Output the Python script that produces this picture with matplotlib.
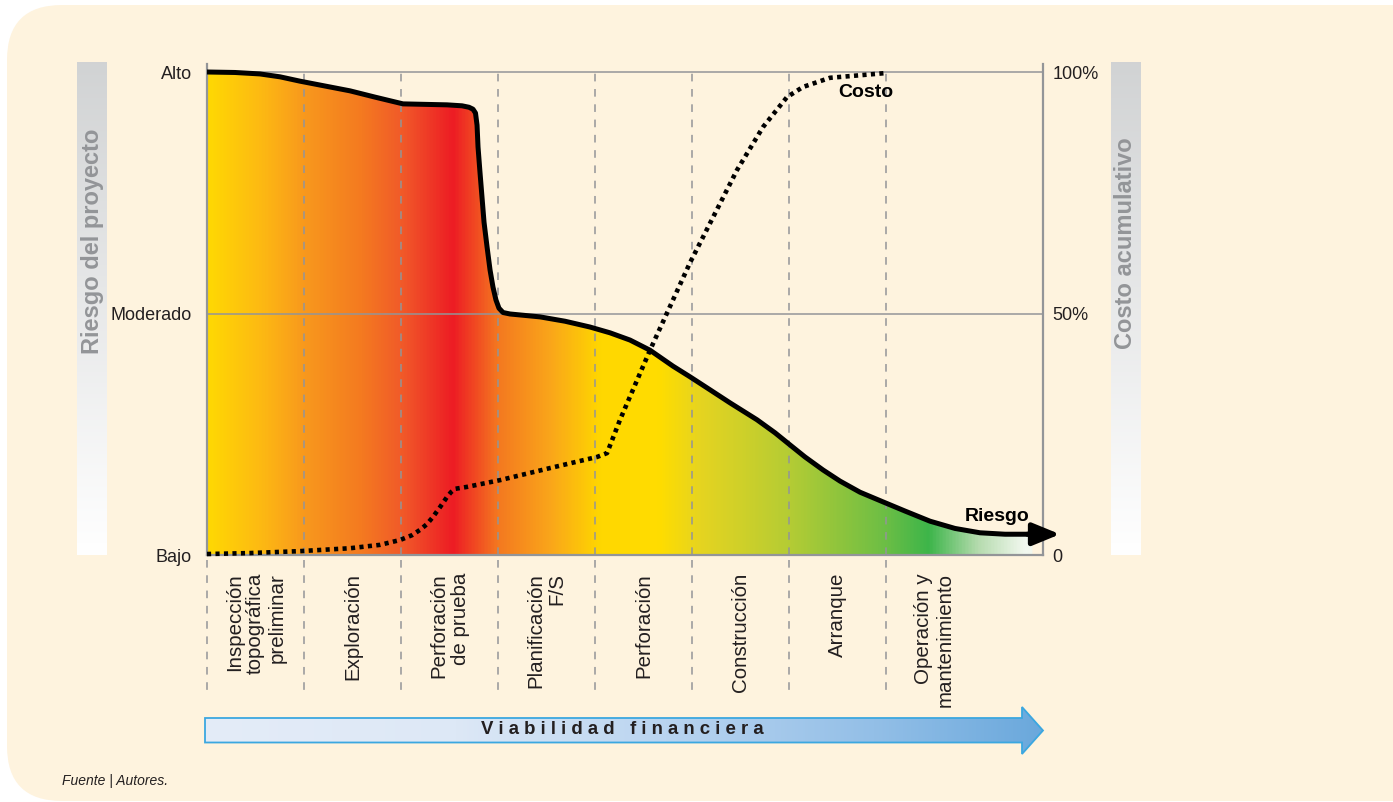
import numpy as np
import matplotlib
matplotlib.use("Agg")
import matplotlib.pyplot as plt
from matplotlib.patches import FancyBboxPatch, Polygon
from matplotlib.colors import LinearSegmentedColormap

plt.rcParams['font.family'] = ['Liberation Sans', 'DejaVu Sans']

# ---------------- data ----------------
phases = ["Inspección\ntopográfica\npreliminar", "Exploración", "Perforación\nde prueba",
          "Planificación\nF/S", "Perforación", "Construcción", "Arranque",
          "Operación y\nmantenimiento"]
risk_levels = ["Bajo", "Moderado", "Alto"]
cost_levels = ["0", "50%", "100%"]
level_values = [0.0, 0.5, 1.0]

# risk curve (x in phase units, y normalized 0=Bajo .. 1=Alto)
risk_x = [0.0, 0.289, 0.546, 0.753, 0.959, 1.216, 1.474, 1.732, 1.938, 2.021, 2.247,
          2.474, 2.629, 2.701, 2.742, 2.768, 2.784, 2.794, 2.814, 2.835, 2.856, 2.887,
          2.918, 2.948, 2.979, 3.010, 3.052, 3.124, 3.433, 3.691, 3.948, 4.155, 4.361,
          4.567, 4.804, 4.979, 5.186, 5.392, 5.670, 5.856, 6.010, 6.165, 6.351, 6.526,
          6.732, 6.969, 7.196, 7.454, 7.711, 7.969, 8.227, 8.557]
risk_y = [1.0, 0.999, 0.996, 0.990, 0.981, 0.971, 0.961, 0.948, 0.938, 0.934, 0.933,
          0.932, 0.930, 0.927, 0.923, 0.915, 0.890, 0.845, 0.793, 0.741, 0.689, 0.638,
          0.590, 0.555, 0.528, 0.511, 0.502, 0.499, 0.493, 0.484, 0.472, 0.460, 0.445,
          0.424, 0.391, 0.369, 0.342, 0.315, 0.280, 0.253, 0.228, 0.203, 0.176, 0.153,
          0.130, 0.110, 0.091, 0.070, 0.055, 0.046, 0.043, 0.043]

# cumulative cost curve (0..1 = 0..100%)
cost_x = [0.0, 0.443, 0.959, 1.474, 1.784, 1.990, 2.113, 2.196, 2.268, 2.330, 2.402,
          2.474, 2.515, 2.557, 2.680, 3.021, 3.536, 4.021, 4.124, 4.258, 4.567, 4.979,
          5.464, 5.732, 5.979, 6.144, 6.423, 7.010]
cost_y = [0.002, 0.004, 0.008, 0.014, 0.021, 0.031, 0.041, 0.052, 0.064, 0.079, 0.099,
          0.120, 0.130, 0.137, 0.141, 0.155, 0.180, 0.203, 0.211, 0.280, 0.424, 0.605,
          0.797, 0.886, 0.948, 0.969, 0.988, 0.998]

# ---------------- styles ----------------
W, H = 1393, 802
GRAY = '#939598'
TXT = '#231F20'
fill_stops_x = [0.0, 0.55, 1.0, 1.58, 2.0, 2.53, 3.0, 3.54, 4.05, 4.67, 5.08, 6.0,
                7.0, 7.45, 7.96, 8.44]
fill_stops_c = ['#FFD803', '#FDB913', '#F8981D', '#F47A20', '#F15A29', '#ED1C24',
                '#F47920', '#FAA61A', '#FFD700', '#FFDD00', '#E6D420', '#B5CC34',
                '#6CBE45', '#3DB54A', '#B5DBAE', '#F2F8EF']

fig = plt.figure(figsize=(W / 100, H / 100), dpi=100)
fig.patch.set_facecolor('white')

# background / decoration layer in pixel coordinates
bg = fig.add_axes([0, 0, 1, 1], zorder=0)
bg.set_xlim(0, W)
bg.set_ylim(H, 0)
bg.axis('off')
bg.add_patch(FancyBboxPatch((7, 5), 1440, 796, boxstyle="round,pad=0,rounding_size=55",
                            fc='#FEF3DE', ec='none'))

# gray gradient side bars
gv = np.linspace(0, 1, 256)[:, None]
top_c = np.array([0.82, 0.827, 0.831])
bar = (top_c[None, None, :] * (1 - gv[:, :, None]) + 1.0 * gv[:, :, None])
for x0 in (77, 1111):
    bg.imshow(bar, extent=[x0, x0 + 30, 555, 62], origin='upper', aspect='auto',
              interpolation='bicubic', zorder=1)
bg.text(92, 241, "Riesgo del proyecto", rotation=90, ha='center', va='center',
        color=GRAY, fontweight='bold', fontsize=17, zorder=2)
bg.text(1126, 243, "Costo acumulativo", rotation=90, ha='center', va='center',
        color=GRAY, fontweight='bold', fontsize=17, zorder=2)

# financial viability arrow
arrow_pts = [(205, 718), (1022, 718), (1022, 707), (1043, 730.5), (1022, 754),
             (1022, 742.5), (205, 742.5)]
acmap = LinearSegmentedColormap.from_list(
    'blu', [(0, '#E4ECF8'), (0.3, '#DDE8F6'), (0.55, '#B9D4F0'), (0.8, '#93BFE7'),
            (1, '#6AA8DC')])
agrad = np.linspace(0, 1, 512)[None, :]
aim = bg.imshow(agrad, cmap=acmap, extent=[205, 1043, 754, 707], aspect='auto',
                zorder=1, interpolation='bicubic')
apoly = Polygon(arrow_pts, closed=True, fc='none', ec='#3BA7E0', lw=1.3, zorder=2)
bg.add_patch(apoly)
aim.set_clip_path(apoly)
bg.text(622, 730, "V i a b i l i d a d   f i n a n c i e r a", ha='center',
        va='center', fontweight='bold', fontsize=13.4, color=TXT, zorder=3)

# source note
bg.text(62, 781, "Fuente | Autores.", style='italic', fontsize=10, ha='left',
        va='center', color=TXT)

# ---------------- main chart ----------------
x_left, x_right, y_bot, y_top = 207, 1043, 555, 64
ax = fig.add_axes([x_left / W, 1 - y_bot / H, (x_right - x_left) / W,
                   (y_bot - y_top) / H], zorder=2)
ax.patch.set_alpha(0)
ax.set_xlim(0, (x_right - x_left) / 97)
ax.set_ylim(0, (y_bot - y_top) / 483)
for s in ('left', 'right', 'bottom'):
    ax.spines[s].set_color(GRAY)
    ax.spines[s].set_linewidth(1.6)
ax.spines['top'].set_visible(False)
ax.set_xticks([])
ax.set_yticks(level_values)
ax.set_yticklabels(risk_levels, fontsize=13, color=TXT)
ax.tick_params(axis='y', length=0, pad=11)

ax2 = ax.twinx()
ax2.patch.set_alpha(0)
ax2.set_ylim(ax.get_ylim())
ax2.set_yticks(level_values)
ax2.set_yticklabels(cost_levels, fontsize=13, color=TXT)
ax2.tick_params(axis='y', length=0, pad=7)
for s in ax2.spines.values():
    s.set_visible(False)
ax2.set_xticks([])

# gradient fill under risk curve
fill_end = fill_stops_x[-1] + 0.07
cmap = LinearSegmentedColormap.from_list(
    'risk', [(x / fill_end, c) for x, c in zip(fill_stops_x, fill_stops_c)] +
    [(1.0, fill_stops_c[-1])])
grad = np.linspace(0, 1, 1024)[None, :]
im = ax.imshow(grad, cmap=cmap, extent=[0, fill_end, 0, 1.0], aspect='auto',
               zorder=1, interpolation='bicubic')
verts = [(min(x, fill_end), y) for x, y in zip(risk_x, risk_y)]
verts += [(fill_end, 0), (0, 0)]
clip = Polygon(verts, closed=True, fc='none', ec='none', transform=ax.transData)
ax.add_patch(clip)
im.set_clip_path(clip)

# gridlines
for v in (0.5, 1.0):
    ax.axhline(v, color=GRAY, lw=1.1, zorder=2)

# phase separators
n = len(phases)
for b in range(1, n):
    ax.plot([b, b], [0, 1.0], color=GRAY, lw=1.1, ls=(0, (5, 5)), zorder=2)
for b in range(0, n):
    ax.plot([b, b], [-0.011, -0.29], color=GRAY, lw=1.1, ls=(0, (5, 5)),
            clip_on=False, zorder=2)

# phase labels
for i, lab in enumerate(phases):
    ax.text(i + 0.5, -0.0367, lab, transform=ax.get_xaxis_transform(), rotation=90,
            ha='center', va='top', multialignment='right', fontsize=14.8, color=TXT,
            linespacing=1.15)

# risk curve + arrow
ax.plot(risk_x, risk_y, color='black', lw=3.6, solid_joinstyle='round',
        solid_capstyle='butt', zorder=4, clip_on=False)
ax.annotate('', xy=(8.794, risk_y[-1]), xytext=(risk_x[-1] - 0.1, risk_y[-1]),
            arrowprops=dict(arrowstyle='-|>,head_length=0.83,head_width=0.34',
                            lw=3.6, color='black', mutation_scale=20,
                            shrinkA=0, shrinkB=0),
            annotation_clip=False, zorder=4)

# cost curve
ax.plot(cost_x, cost_y, color='black', lw=3.3, ls=(0, (0.9, 0.95)),
        dash_capstyle='butt', zorder=5, clip_on=False)

ax.text(8.144, 0.079, "Riesgo", ha='center', va='center', fontweight='bold',
        fontsize=14, color='black', zorder=6)
ax.text(6.794, 0.958, "Costo", ha='center', va='center', fontweight='bold',
        fontsize=14, color='black', zorder=6)

fig.savefig("out.png", dpi=100)
